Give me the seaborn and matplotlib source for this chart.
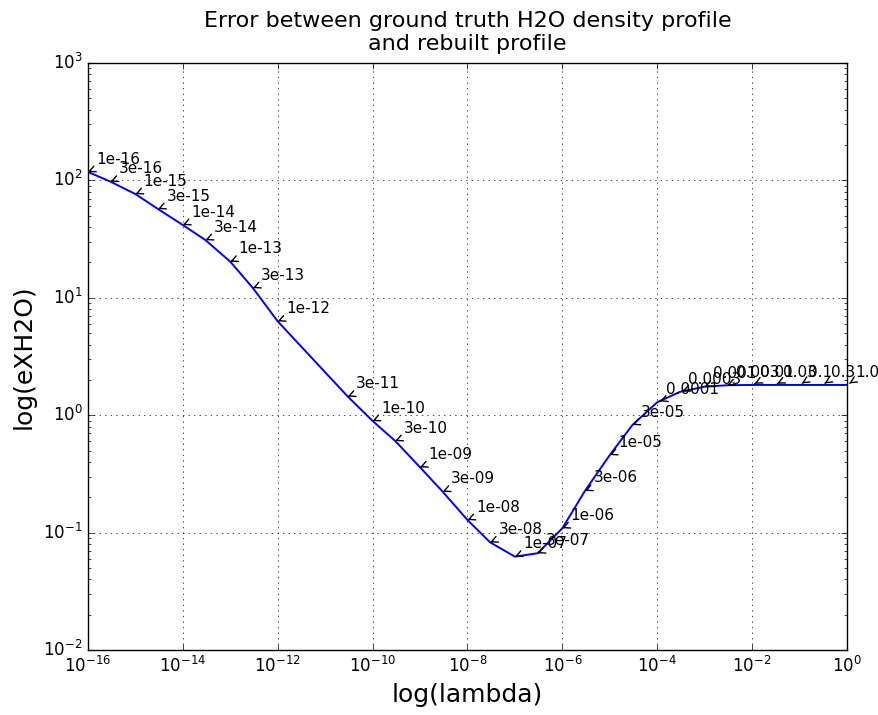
import numpy as np
import pandas as pd
import matplotlib
matplotlib.use("Agg")
import matplotlib.pyplot as plt
import seaborn as sns

# regularisation parameters and the error
lambdas = [1e-16, 3e-16, 1e-15, 3e-15, 1e-14, 3e-14, 1e-13, 3e-13, 1e-12,
           3e-11, 1e-10, 3e-10, 1e-09, 3e-09, 1e-08, 3e-08, 1e-07, 3e-07,
           1e-06, 3e-06, 1e-05, 3e-05, 0.0001, 0.0003, 0.001, 0.003, 0.01,
           0.03, 0.1, 0.3, 1.0]
errors = [118, 97.5, 76.5, 57, 41.7, 31, 20.3, 12.1, 6.3,
          1.44, 0.893, 0.603, 0.36, 0.223, 0.128, 0.0826, 0.0624, 0.0667,
          0.109, 0.227, 0.458, 0.826, 1.29, 1.58, 1.75, 1.80, 1.81,
          1.81, 1.81, 1.81, 1.81]
labels = ["1e-16", "3e-16", "1e-15", "3e-15", "1e-14", "3e-14", "1e-13",
          "3e-13", "1e-12", "3e-11", "1e-10", "3e-10", "1e-09", "3e-09",
          "1e-08", "3e-08", "1e-07", "3e-07", "1e-06", "3e-06", "1e-05",
          "3e-05", "0.0001", "0.0003", "0.001", "0.003", "0.01", "0.03",
          "0.1", "0.3", "1.0"]

df = pd.DataFrame({"lambda": lambdas, "err": errors})

plt.style.use("classic")
plt.rcParams["mathtext.fontset"] = "dejavusans"
plt.rcParams["font.family"] = ["DejaVu Sans"]

fig = plt.figure(figsize=(8.79, 7.15), dpi=100, facecolor="white")
ax = fig.add_axes([88 / 879, 1 - 650 / 715, (847 - 88) / 879, (650 - 63) / 715])
ax.set_facecolor("white")

sns.lineplot(data=df, x="lambda", y="err", ax=ax, color="b", linewidth=1.4)
ax.set_xscale("log")
ax.set_yscale("log")
ax.set_xlim(1e-16, 1.0)
ax.set_ylim(1e-2, 1e3)

# label every point with its lambda, small arrow pointing at it
for lam, e, lab in zip(lambdas, errors, labels):
    ax.annotate(lab, xy=(lam, e), xytext=(6, 6), textcoords="offset points",
                arrowprops=dict(arrowstyle="->", color="black"), fontsize=11)

ax.grid(True, color="black", linestyle=":", linewidth=0.5)
ax.tick_params(labelsize=12)
ax.set_xticks([10.0 ** k for k in range(-16, 1, 2)])
ax.set_xlabel("log(lambda)", fontsize=18)
ax.set_ylabel("log(eXH2O)", fontsize=18)
ax.set_title("Error between ground truth H2O density profile\nand rebuilt profile",
             fontsize=16, pad=9)

fig.savefig("out.png", dpi=100, facecolor="white")
